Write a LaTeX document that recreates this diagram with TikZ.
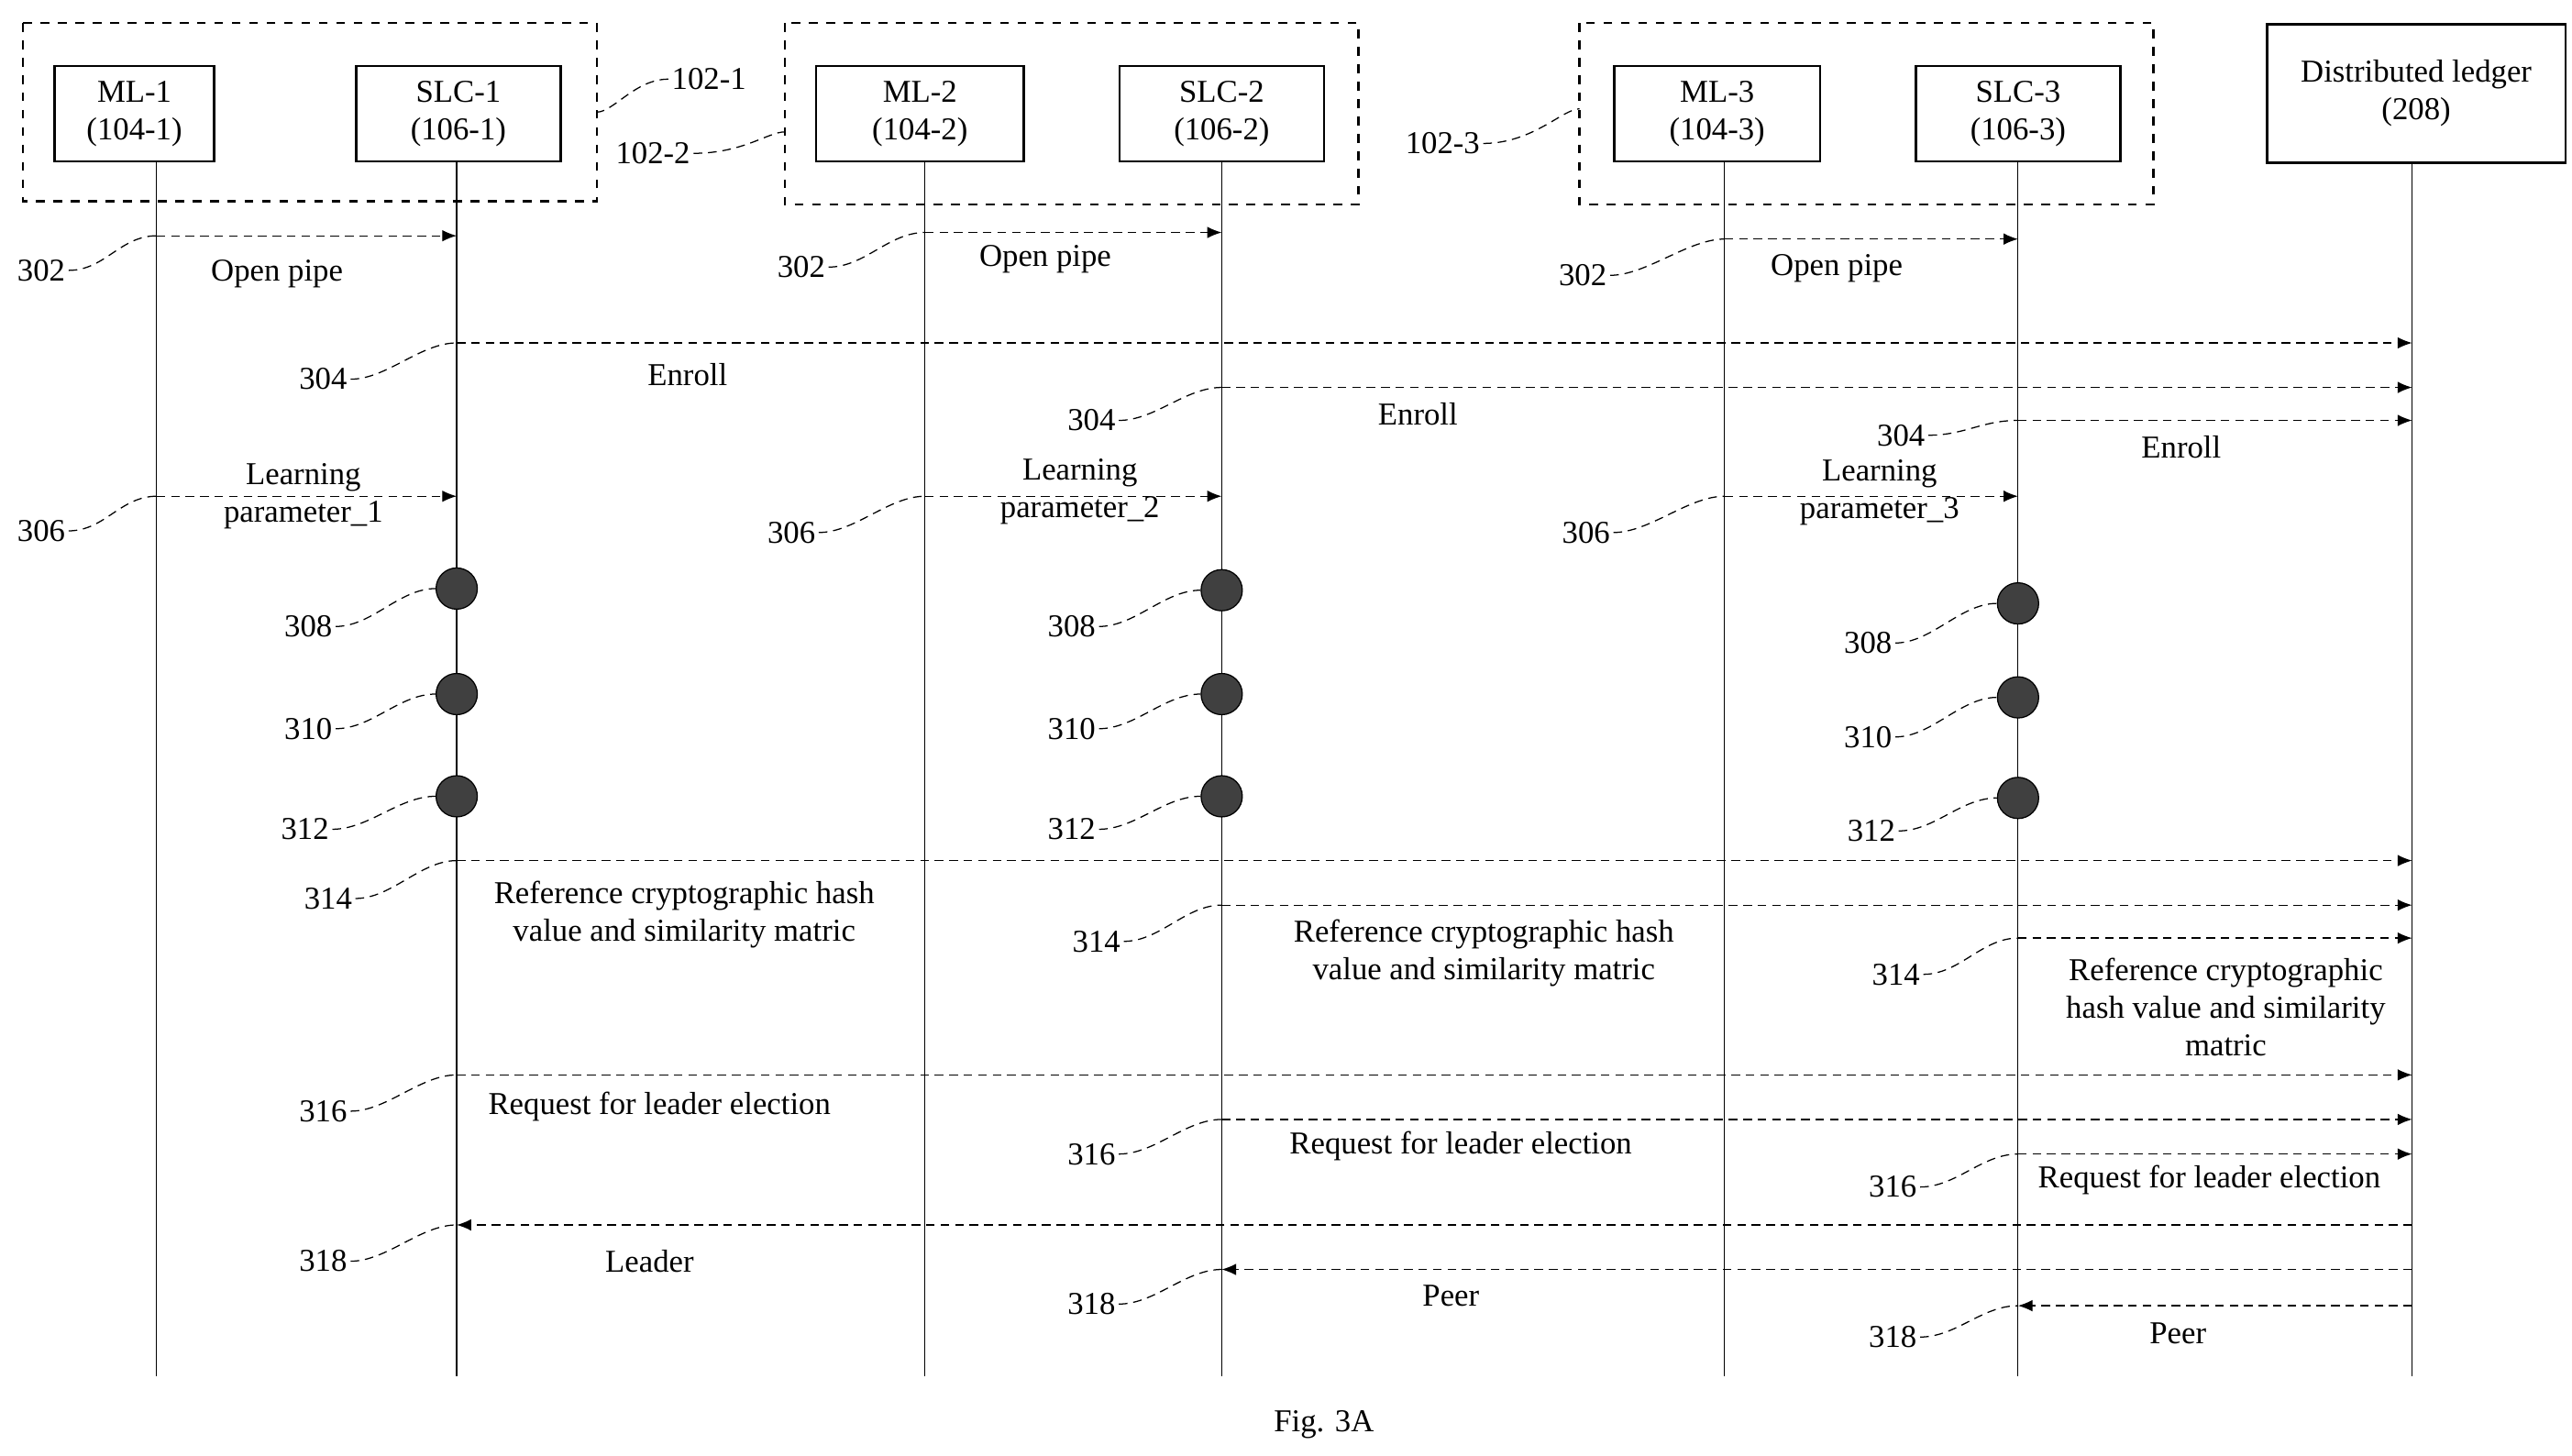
\documentclass[tikz,border=0pt]{standalone}
\usepackage{fontspec}
\setmainfont{Liberation Serif}
\usetikzlibrary{arrows.meta,calc,positioning}
\tikzset{
  box/.style={draw,thick,minimum width={#1*0.02cm},minimum height={58*0.02cm},inner sep=0pt,align=center,font=\fontsize{11}{13}\selectfont},
  group/.style={draw,thick,dashed},
  life/.style={thin},
  msg/.style={densely dashed,thin,-{Latex[length=5pt,width=4pt]}},
  txt/.style={font=\fontsize{11}{13}\selectfont,align=center,inner sep=1pt},
  ref/.style={font=\fontsize{11}{13}\selectfont,inner sep=1pt},
  dot/.style={circle,fill=black!75,draw=black,minimum size={25*0.02cm},inner sep=0pt}
}
\begin{document}
\begin{tikzpicture}[x=0.02cm,y=-0.02cm]
\useasboundingbox (0,0) rectangle (1560,883);
% groups
\draw[group] (14,14) rectangle (362,122);
\draw[group] (476,14) rectangle (824,124);
\draw[group] (958,14) rectangle (1306,124);
\node[box=97] (ml1) at (81.5,69) {ML-1\\(104-1)};
\node[box=124] (slc1) at (278,69) {SLC-1\\(106-1)};
\node[box=126] (ml2) at (558,69) {ML-2\\(104-2)};
\node[box=124] (slc2) at (741,69) {SLC-2\\(106-2)};
\node[box=125] (ml3) at (1041.5,69) {ML-3\\(104-3)};
\node[box=124] (slc3) at (1224,69) {SLC-3\\(106-3)};
\node[box=181,minimum height={84*0.02cm},anchor=north] (dl) at (1465.5,14) {Distributed ledger\\(208)};
% lifelines
\foreach \n/\x in {ml1/95,slc1/277,ml2/561,slc2/741,ml3/1046,slc3/1224,dl/1463}{
  \coordinate (\n-top) at (\x,98);
  \coordinate (\n-end) at (\x,835);
  \draw[life] (\n-top) -- (\n-end);
}
% group labels
\node[ref] (g1) at (430,48) {102-1};
\node[ref] (g2) at (396,93) {102-2};
\node[ref] (g3) at (875,87) {102-3};
\draw[thin,densely dashed] (g1.west) .. controls +(-20,0) and +(10,0) .. (362,68);
\draw[thin,densely dashed] (g2.east) .. controls +(30,0) and +(-10,0) .. (476,80);
\draw[thin,densely dashed] (g3.east) .. controls +(30,0) and +(-10,0) .. (958,66);
% messages: from/to/y/label/labelpos/ref/refpos
\foreach \a/\b/\y/\t/\tp/\r/\rp [count=\i] in {
  ml1/slc1/143/Open pipe/{168,166}/302/{25,164},
  ml2/slc2/141/Open pipe/{634,157}/302/{486,162},
  ml3/slc3/145/Open pipe/{1114,163}/302/{960,167},
  slc1/dl/208/Enroll/{417,227}/304/{196,230},
  slc2/dl/235/Enroll/{860,251}/304/{662,255},
  slc3/dl/255/Enroll/{1323,271}/304/{1153,264},
  ml1/slc1/301/{Learning\\parameter\_1}/{184,301}/306/{25,322},
  ml2/slc2/301/{Learning\\parameter\_2}/{655,298}/306/{480,323},
  ml3/slc3/301/{Learning\\parameter\_3}/{1140,299}/306/{962,323},
  slc1/dl/522/{Reference cryptographic hash\\value and similarity matric}/{415,555}/314/{199,545},
  slc2/dl/549/{Reference cryptographic hash\\value and similarity matric}/{900,578}/314/{665,571},
  slc3/dl/569/{Reference cryptographic\\hash value and similarity\\matric}/{1350,611}/314/{1150,591},
  slc1/dl/652/Request for leader election/{400,671}/316/{196,674},
  slc2/dl/679/Request for leader election/{886,695}/316/{662,700},
  slc3/dl/700/Request for leader election/{1340,716}/316/{1148,720},
  dl/slc1/743/Leader/{394,765}/318/{196,765},
  dl/slc2/770/Peer/{880,786}/318/{662,791},
  dl/slc3/792/Peer/{1321,809}/318/{1148,811}}{
  \coordinate (m\i-from) at (\a-top |- 0,\y);
  \coordinate (m\i-to) at (\b-top |- 0,\y);
  \draw[msg] (m\i-from) -- (m\i-to);
  \node[txt] (m\i-label) at (\tp) {\t};
  \node[ref] (m\i-ref) at (\rp) {\r};
  \coordinate (m\i-tip) at (\a-top |- 0,\y);
  \ifnum\pdfstrcmp{\a}{dl}=0 \coordinate (m\i-tip) at (\b-top |- 0,\y);\fi
  \draw[thin,densely dashed] (m\i-ref.east) .. controls +(22,0) and +(-22,0) .. (m\i-tip);
}
% processing steps
\foreach \n/\y/\r/\rp [count=\i] in {
  slc1/357/308/{187,380}, slc1/421/310/{187,442}, slc1/483/312/{185,503},
  slc2/358/308/{650,380}, slc2/421/310/{650,442}, slc2/483/312/{650,503},
  slc3/366/308/{1133,390}, slc3/423/310/{1133,447}, slc3/484/312/{1135,504}}{
  \node[dot] (d\i) at (\n-top |- 0,\y) {};
  \node[ref] (d\i-ref) at (\rp) {\r};
  \draw[thin,densely dashed] (d\i-ref.east) .. controls +(22,0) and +(-22,0) .. (d\i.west);
}
\node[ref] (fig) at (803,864) {Fig. 3A};
\end{tikzpicture}
\end{document}
